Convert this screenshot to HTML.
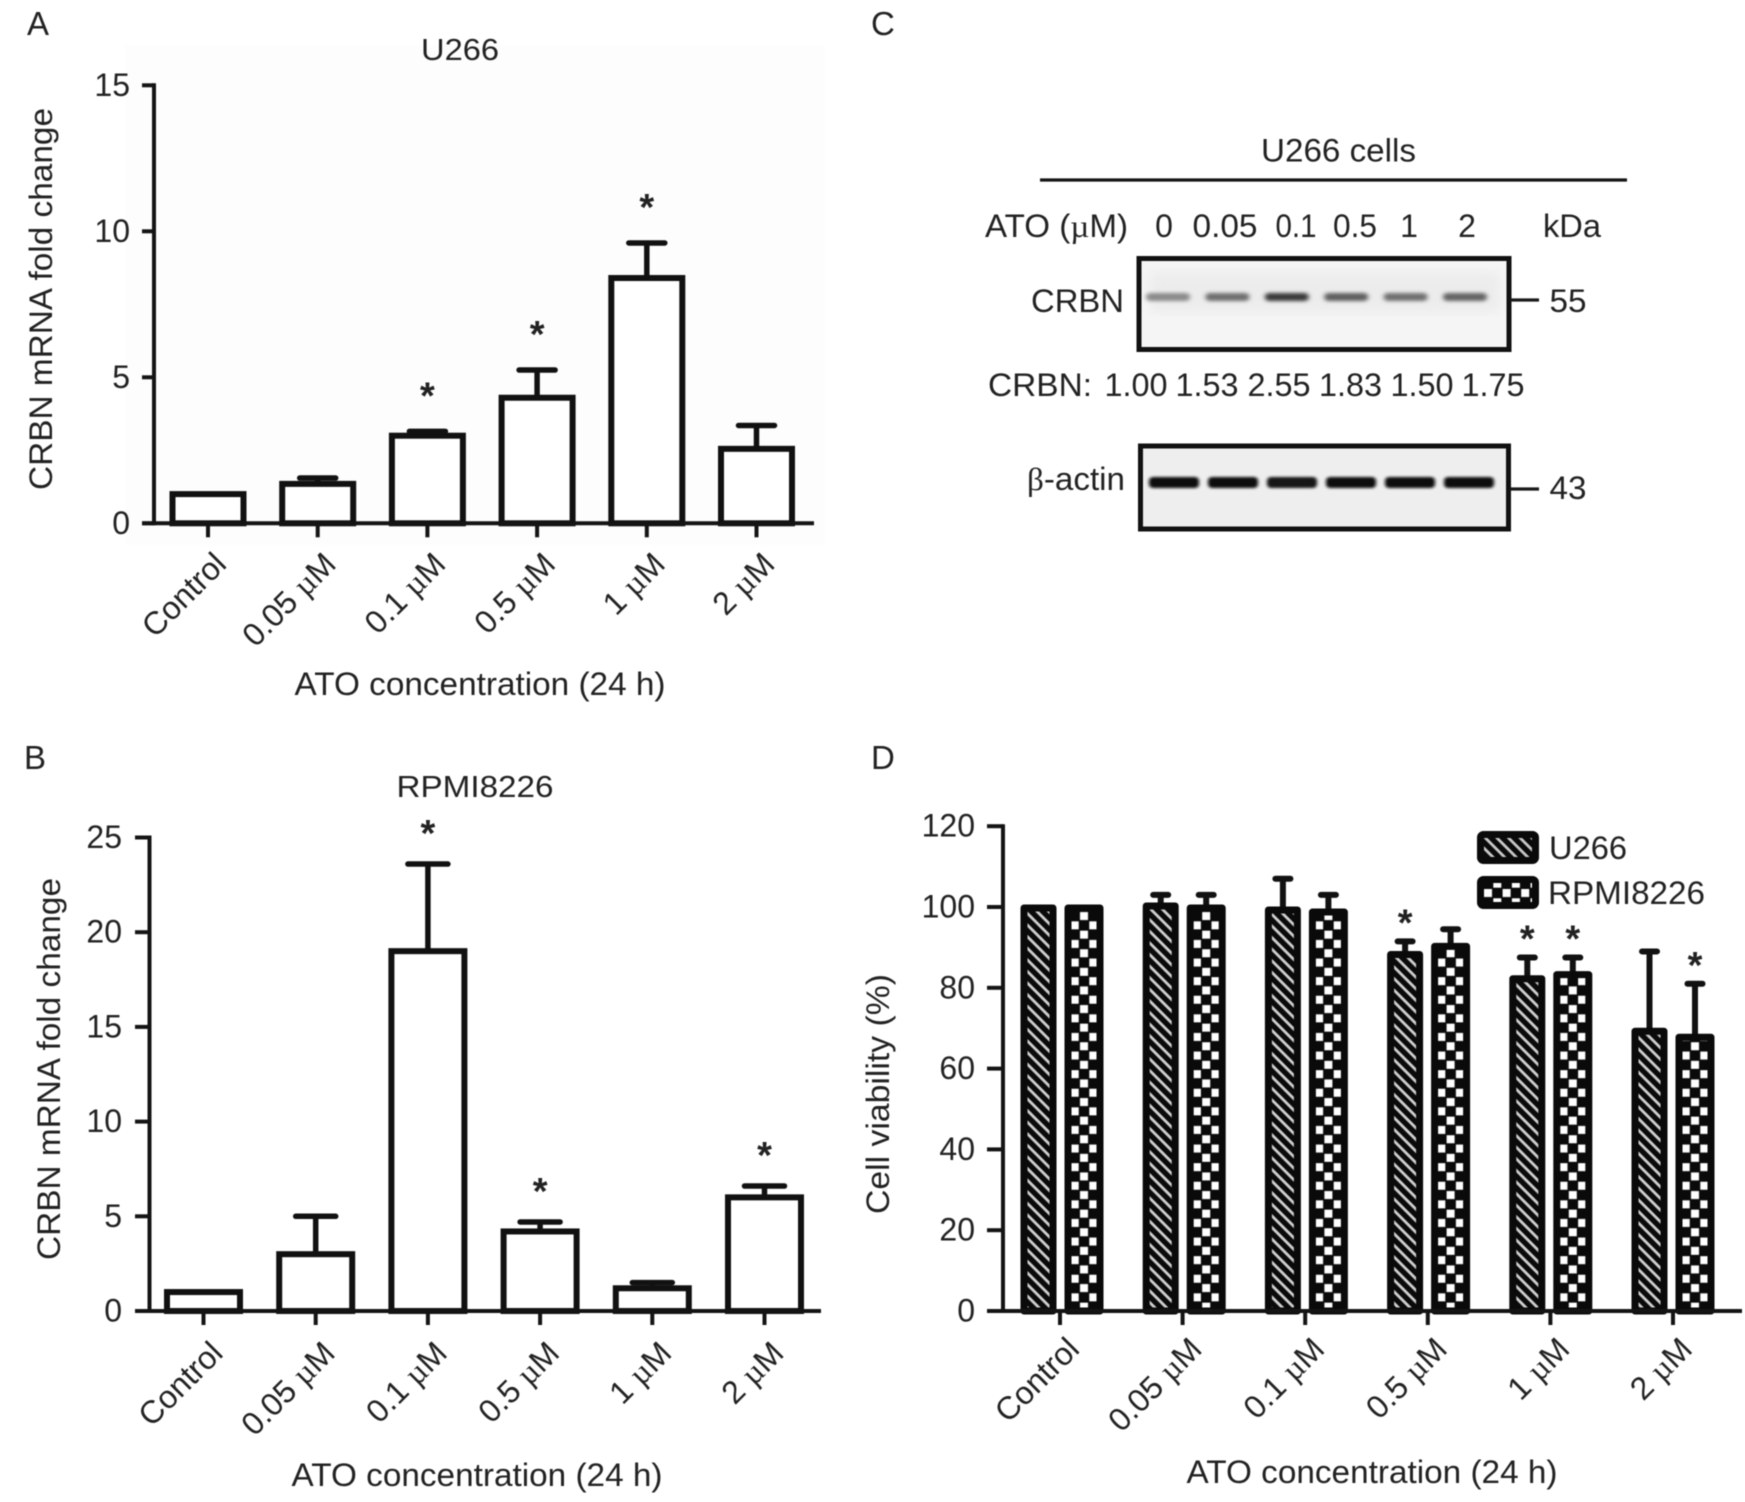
<!DOCTYPE html>
<html lang="en">
<head>
<meta charset="utf-8">
<title>CRBN expression after ATO treatment</title>
<style>
html,body{margin:0;padding:0;background:#fff;}
svg{display:block;filter:blur(0.5px);}
text{font-family:"Liberation Sans",sans-serif;fill:#222;}
.serif{font-family:"Liberation Serif",serif;}
</style>
</head>
<body>
<svg id="figure" xmlns="http://www.w3.org/2000/svg" width="1745" height="1502" viewBox="0 0 1745 1502">
  <defs>
    <pattern id="hatch-legend" patternUnits="userSpaceOnUse" width="8.2" height="8.2" patternTransform="rotate(45)">
      <rect width="8.2" height="8.2" fill="#0a0a0a"></rect>
      <rect width="8.2" height="2.8" fill="#c8c8c8"></rect>
    </pattern>
    <pattern id="check-legend" patternUnits="userSpaceOnUse" x="1483" y="888" width="18.6" height="18.6">
      <rect width="18.6" height="18.6" fill="#0a0a0a"></rect>
      <rect x="1" y="1" width="8" height="8" fill="#fff"></rect>
      <rect x="10.3" y="10.3" width="8" height="8" fill="#fff"></rect>
    </pattern>
    <filter id="band-blur" x="-30%" y="-150%" width="160%" height="400%"><feGaussianBlur stdDeviation="2.4 1.9"></feGaussianBlur></filter>
    <filter id="actin-blur" x="-30%" y="-120%" width="160%" height="340%"><feGaussianBlur stdDeviation="1.6 1.3"></feGaussianBlur></filter>
    <filter id="blot-blur" x="-10%" y="-10%" width="120%" height="120%"><feGaussianBlur stdDeviation="6"></feGaussianBlur></filter>
  </defs>

  <rect width="1745" height="1502" fill="#ffffff"></rect>
  <rect x="125" y="45" width="700" height="500" fill="#fdfdfd"></rect>

  <!-- Panel labels -->
  <text x="27" y="35" font-size="33">A</text>
  <text x="24" y="769" font-size="33">B</text>
  <text x="871" y="35" font-size="33">C</text>
  <text x="871" y="769" font-size="33">D</text>

  <!-- Chart titles and axis titles -->
  <text x="460" y="60" font-size="31" text-anchor="middle" textLength="78" lengthAdjust="spacingAndGlyphs">U266</text>
  <text transform="translate(52 299) rotate(-90)" font-size="32" text-anchor="middle" textLength="382" lengthAdjust="spacingAndGlyphs">CRBN mRNA fold change</text>
  <text x="480" y="695" font-size="32" text-anchor="middle" textLength="371" lengthAdjust="spacingAndGlyphs">ATO concentration (24 h)</text>

  <text x="475" y="797" font-size="31" text-anchor="middle" textLength="157" lengthAdjust="spacingAndGlyphs">RPMI8226</text>
  <text transform="translate(60 1069) rotate(-90)" font-size="32" text-anchor="middle" textLength="382" lengthAdjust="spacingAndGlyphs">CRBN mRNA fold change</text>
  <text x="477" y="1486" font-size="32" text-anchor="middle" textLength="371" lengthAdjust="spacingAndGlyphs">ATO concentration (24 h)</text>

  <text transform="translate(889 1094) rotate(-90)" font-size="32" text-anchor="middle" textLength="240" lengthAdjust="spacingAndGlyphs">Cell viability (%)</text>
  <text x="1372" y="1483" font-size="32" text-anchor="middle" textLength="371" lengthAdjust="spacingAndGlyphs">ATO concentration (24 h)</text>

  <!-- Panel C: western blot -->
  <g>
    <text x="1338.5" y="161.5" font-size="32" text-anchor="middle" textLength="155" lengthAdjust="spacingAndGlyphs">U266 cells</text>
    <line x1="1040" x2="1627" y1="180" y2="180" stroke="#141414" stroke-width="3.2"></line>
    <text x="985" y="237" font-size="32" textLength="143" lengthAdjust="spacingAndGlyphs">ATO (<tspan class="serif">µ</tspan>M)</text>
    <text x="1164" y="237" font-size="32" text-anchor="middle">0</text>
    <text x="1225" y="237" font-size="32" text-anchor="middle" textLength="65" lengthAdjust="spacingAndGlyphs">0.05</text>
    <text x="1296" y="237" font-size="32" text-anchor="middle" textLength="41" lengthAdjust="spacingAndGlyphs">0.1</text>
    <text x="1355" y="237" font-size="32" text-anchor="middle" textLength="44" lengthAdjust="spacingAndGlyphs">0.5</text>
    <text x="1409" y="237" font-size="32" text-anchor="middle">1</text>
    <text x="1467" y="237" font-size="32" text-anchor="middle">2</text>
    <text x="1543" y="237" font-size="32" textLength="58" lengthAdjust="spacingAndGlyphs">kDa</text>

    <text x="1031" y="312" font-size="32" textLength="93" lengthAdjust="spacingAndGlyphs">CRBN</text>
    <rect x="1139" y="258" width="370" height="91" fill="#f5f5f5"></rect>
    <rect x="1150" y="272" width="350" height="40" fill="#ececec" filter="url(#blot-blur)"></rect>
    <g id="crbn-bands"></g>
    <rect x="1139" y="258.5" width="370" height="91" fill="none" stroke="#111" stroke-width="5"></rect>
    <line x1="1510" x2="1539" y1="300" y2="300" stroke="#1a1a1a" stroke-width="3.2"></line>
    <text x="1549.5" y="312" font-size="32" textLength="37" lengthAdjust="spacingAndGlyphs">55</text>

    <text x="988" y="396" font-size="32" textLength="104" lengthAdjust="spacingAndGlyphs">CRBN:</text>
    <text x="1136" y="396" font-size="32" text-anchor="middle" textLength="63" lengthAdjust="spacingAndGlyphs">1.00</text>
    <text x="1207" y="396" font-size="32" text-anchor="middle" textLength="63" lengthAdjust="spacingAndGlyphs">1.53</text>
    <text x="1279" y="396" font-size="32" text-anchor="middle" textLength="63" lengthAdjust="spacingAndGlyphs">2.55</text>
    <text x="1350.5" y="396" font-size="32" text-anchor="middle" textLength="63" lengthAdjust="spacingAndGlyphs">1.83</text>
    <text x="1422" y="396" font-size="32" text-anchor="middle" textLength="63" lengthAdjust="spacingAndGlyphs">1.50</text>
    <text x="1493" y="396" font-size="32" text-anchor="middle" textLength="63" lengthAdjust="spacingAndGlyphs">1.75</text>

    <text x="1027" y="490" font-size="32" textLength="98" lengthAdjust="spacingAndGlyphs"><tspan class="serif">β</tspan>-actin</text>
    <rect x="1140" y="446" width="368" height="82" fill="#eeeeee"></rect>
    <g id="actin-bands"></g>
    <rect x="1140.5" y="446" width="368" height="83" fill="none" stroke="#111" stroke-width="5"></rect>
    <line x1="1510" x2="1539" y1="489" y2="489" stroke="#1a1a1a" stroke-width="3.2"></line>
    <text x="1549.5" y="499" font-size="32" textLength="37" lengthAdjust="spacingAndGlyphs">43</text>
  </g>

  <!-- Panel charts, drawn from data below -->
  <g id="chart-a"></g>
  <g id="chart-b"></g>
  <g id="chart-d"></g>

  <!-- Legend for panel D -->
  <g>
    <g>
      <rect x="1480.5" y="834.5" width="55" height="26" rx="3" fill="url(#hatch-legend)" stroke="#0a0a0a" stroke-width="7"></rect>
      <text x="1549" y="859" font-size="32" textLength="78" lengthAdjust="spacingAndGlyphs">U266</text>
    </g>
    <g>
      <rect x="1480.5" y="879.5" width="55" height="26" rx="3" fill="url(#check-legend)" stroke="#0a0a0a" stroke-width="7"></rect>
      <text x="1548" y="904" font-size="32" textLength="157" lengthAdjust="spacingAndGlyphs">RPMI8226</text>
    </g>
  </g>
</svg>

<script>
// ---- Shared categories ----
const categoriesA = ["Control", "0.05 µM", "0.1 µM", "0.5 µM", "1 µM", "2 µM"];
const categoriesB = ["Control", "0.05 µM", "0.1 µM", "0.5 µM", "1 µM", "2 µM"];
const categoriesD = ["Control", "0.05 µM", "0.1 µM", "0.5 µM", "1 µM", "2 µM"];

// ---- Panel A ----
const ticksA = [0, 5, 10, 15];
const valuesA = [1, 1.35, 3, 4.3, 8.4, 2.55];
const errorTopsA = [1, 1.55, 3.15, 5.25, 9.6, 3.35];
const significantA = [false, false, true, true, true, false];

// ---- Panel B ----
const ticksB = [0, 5, 10, 15, 20, 25];
const valuesB = [1, 3, 19, 4.2, 1.2, 6];
const errorTopsB = [1, 5, 23.6, 4.7, 1.5, 6.6];
const significantB = [false, false, true, true, false, true];

// ---- Panel D ----
const ticksD = [0, 20, 40, 60, 80, 100, 120];
const valuesU266 = [100, 100.5, 99.5, 88.5, 82.5, 69.5];
const errorTopsU266 = [100, 103, 107, 91.5, 87.5, 89];
const significantU266 = [false, false, false, true, true, false];
const valuesRPMI = [100, 100, 99, 90.5, 83.5, 68];
const errorTopsRPMI = [100, 103, 103, 94.5, 87.5, 81];
const significantRPMI = [false, false, false, false, true, true];

// ---- Panel C band densities ----
const crbnDensity = [1.00, 1.53, 2.55, 1.83, 1.50, 1.75];
const actinDensity = [0.90, 0.90, 0.82, 0.92, 0.95, 1.00];

const SVG_NS = "http://www.w3.org/2000/svg";
function mk(parent, tag, attrs) {
  const el = document.createElementNS(SVG_NS, tag);
  for (const key in attrs) el.setAttribute(key, attrs[key]);
  parent.appendChild(el);
  return el;
}
function setLabel(el, label) {
  const parts = label.split("µ");
  el.appendChild(document.createTextNode(parts[0]));
  if (parts.length > 1) {
    const mu = document.createElementNS(SVG_NS, "tspan");
    mu.setAttribute("class", "serif");
    mu.textContent = "µ";
    el.appendChild(mu);
    el.appendChild(document.createTextNode(parts[1]));
  }
}

// Axis drawing shared by panels A, B and D
function drawAxes(root, o) {
  const axisStroke = { stroke: "#141414", "stroke-width": 4, fill: "none" };
  const yAxis = mk(root, "line", Object.assign({ x1: o.axisX, x2: o.axisX, y1: o.y(o.ticks[o.ticks.length - 1]) - 2, y2: o.y(0) + 2 }, axisStroke));
  
  
  const xAxis = mk(root, "line", Object.assign({ x1: o.xStart, x2: o.xEnd, y1: o.y(0), y2: o.y(0) }, axisStroke));
  
  
  o.ticks.forEach(function (t) {
    const tick = mk(root, "line", Object.assign({ x1: o.xStart, x2: o.axisX, y1: o.y(t), y2: o.y(t) }, axisStroke));
    
    
    const lab = mk(root, "text", { x: o.tickLabelX, y: o.y(t) + 10.5, "font-size": 32, "text-anchor": "end" });
    lab.textContent = String(t);
    
    
  });
  o.categories.forEach(function (c, i) {
    const tick = mk(root, "line", Object.assign({ x1: o.tickX(i), x2: o.tickX(i), y1: o.y(0), y2: o.y(0) + 14 }, axisStroke));
    
    
    const px = o.tickX(i) + o.labelDx, py = o.labelY;
    const lab = mk(root, "text", { transform: "translate(" + px + " " + py + ") rotate(-45)", "font-size": 32, "text-anchor": "end" });
    setLabel(lab, c);
    
    
  });
}

function drawError(root, cx, yTop, yBase, capW, stem, capH) {
  const line = mk(root, "line", { x1: cx, x2: cx, y1: yTop, y2: yBase, stroke: "#111", "stroke-width": stem });
  
  
  const cap = mk(root, "line", { x1: cx - capW / 2, x2: cx + capW / 2, y1: yTop, y2: yTop, stroke: "#111", "stroke-width": capH, "stroke-linecap": "round" });
  
  
}
function drawStar(root, cx, cy) {
  const star = mk(root, "text", { x: cx, y: cy + 24, "font-size": 38, "text-anchor": "middle", "font-weight": "bold" });
  star.textContent = "*";
  
  
}

function drawOutlineChart(root, o, values, errorTops, significant) {
  values.forEach(function (v, i) {
    const cx = o.x(i);
    if (errorTops[i] > v) {
      drawError(root, cx, o.y(errorTops[i]), o.y(v), o.capW, 5.5, 5.5);
    }
    const bar = mk(root, "rect", {
      x: cx - o.barW / 2, y: o.y(v), width: o.barW, height: o.y(0) - o.y(v),
      fill: "#fff", stroke: "#111", "stroke-width": 6
    });
    
    
    if (significant[i]) drawStar(root, cx, o.y(errorTops[i]) - o.starGap);
  });
  drawAxes(root, o);
}

// Panel A axis functions
const xA = function (i) { return 208 + i * 109.7; };
const yA = function (v) { return 523.3 - v * 29.2; };
drawOutlineChart(document.getElementById("chart-a"), {
  x: xA, tickX: xA, y: yA, ticks: ticksA, categories: categoriesA,
  axisX: 154, xStart: 142, xEnd: 814, tickLabelX: 130,
  labelDx: 20, labelY: 566, barW: 71, capW: 36, starGap: 47
}, valuesA, errorTopsA, significantA);

// Panel B axis functions
const xB = function (i) { return 203.5 + i * 112.2; };
const yB = function (v) { return 1311 - v * 18.94; };
drawOutlineChart(document.getElementById("chart-b"), {
  x: xB, tickX: xB, y: yB, ticks: ticksB, categories: categoriesB,
  axisX: 149.5, xStart: 135, xEnd: 821, tickLabelX: 122,
  labelDx: 21, labelY: 1355, barW: 73, capW: 40, starGap: 42
}, valuesB, errorTopsB, significantB);

// Panel D axis functions
const xD = function (i) { return 1059.5 + i * 122.2; };
const yD = function (v) { return 1311 - v * 4.04; };
const offsetU266 = -21, offsetRPMI = 24.5;
const chartD = document.getElementById("chart-d");
const defs = document.querySelector("defs");

function hatchFor(id) {
  const p = mk(defs, "pattern", { id: id, patternUnits: "userSpaceOnUse", width: 8.2, height: 8.2, patternTransform: "rotate(45)" });
  mk(p, "rect", { width: 8.2, height: 8.2, fill: "#0a0a0a" });
  mk(p, "rect", { width: 8.2, height: 2.8, fill: "#cfcfcf" });
  return "url(#" + id + ")";
}
function checkFor(id, cx) {
  const p = mk(defs, "pattern", { id: id, patternUnits: "userSpaceOnUse", x: cx - 4.65, y: 0, width: 18.6, height: 18.6 });
  mk(p, "rect", { width: 18.6, height: 18.6, fill: "#0a0a0a" });
  mk(p, "rect", { x: 0.65, y: 0.65, width: 8, height: 8, fill: "#fff" });
  mk(p, "rect", { x: 9.95, y: 9.95, width: 8, height: 8, fill: "#fff" });
  return "url(#" + id + ")";
}
function drawPatternBar(cx, outerW, v, top, fill) {
  if (top > v) drawError(chartD, cx, yD(top), yD(v), 15, 6, 6);
  const bar = mk(chartD, "rect", {
    x: cx - (outerW - 7) / 2, y: yD(v) + 1, width: outerW - 7, height: yD(0) - yD(v) - 1,
    fill: fill, stroke: "#0a0a0a", "stroke-width": 7, "stroke-linejoin": "round"
  });
  
  
}
valuesU266.forEach(function (v, i) {
  const cx = xD(i) + offsetU266;
  drawPatternBar(cx, 36, v, errorTopsU266[i], hatchFor("hatch-u266-" + i));
  if (significantU266[i]) drawStar(chartD, cx, yD(errorTopsU266[i]) - 30);
});
valuesRPMI.forEach(function (v, i) {
  const cx = xD(i) + offsetRPMI;
  drawPatternBar(cx, 39, v, errorTopsRPMI[i], checkFor("check-rpmi-" + i, cx));
  if (significantRPMI[i]) drawStar(chartD, cx, yD(errorTopsRPMI[i]) - 30);
});
const xDTicks = function (i) { return 1060 + i * 122.6; };
drawAxes(chartD, {
  x: xD, tickX: xDTicks, y: yD, ticks: ticksD, categories: categoriesD,
  axisX: 1003, xStart: 987, xEnd: 1742, tickLabelX: 975,
  labelDx: 21, labelY: 1351
});

// Panel C bands, one lane per density
const laneCrbn = function (i) { return 1168 + i * 59.4; };
const laneActin = function (i) { return 1174 + i * 59; };
const crbnBands = document.getElementById("crbn-bands");
const actinBands = document.getElementById("actin-bands");
crbnDensity.forEach(function (d, i) {
  const shade = Math.max(40, Math.round(190 - d * 52));
  const band = mk(crbnBands, "rect", {
    x: laneCrbn(i) - 22, y: 293, width: 44, height: 8, rx: 4,
    fill: "rgb(" + shade + "," + shade + "," + shade + ")", filter: "url(#band-blur)"
  });
  
  
});
actinDensity.forEach(function (d, i) {
  const shade = Math.round(60 - d * 50);
  const band = mk(actinBands, "rect", {
    x: laneActin(i) - 25, y: 477, width: 50, height: 11, rx: 4,
    fill: "rgb(" + shade + "," + shade + "," + shade + ")", filter: "url(#actin-blur)"
  });
  
  
});
</script>
</body>
</html>
